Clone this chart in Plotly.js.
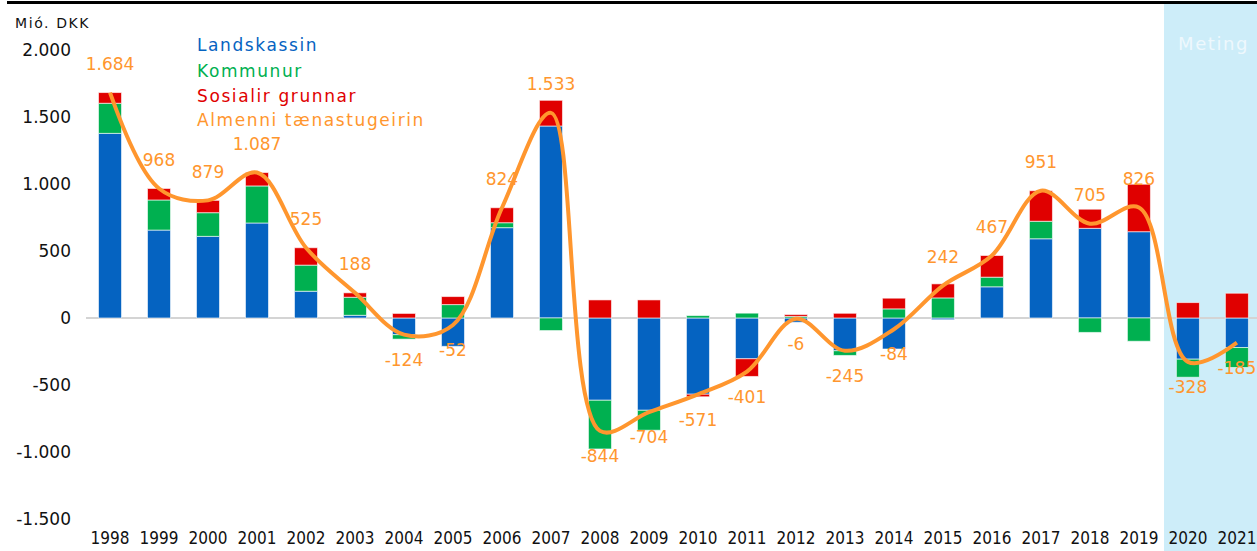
<!DOCTYPE html>
<html>
<head>
<meta charset="utf-8">
<script src="https://cdn.plot.ly/plotly-3.0.1.min.js"></script>
<style>
html, body { margin: 0; padding: 0; background: #fff; }
#chart { width: 1257px; height: 551px; }
.annotation-text { letter-spacing: 1.6px; }
</style>
</head>
<body>
<div id="chart"></div>
<script>
// values in Mió. DKK
const years = ["1998", "1999", "2000", "2001", "2002", "2003", "2004", "2005", "2006", "2007", "2008", "2009",
               "2010", "2011", "2012", "2013", "2014", "2015", "2016", "2017", "2018", "2019", "2020", "2021"];
const landskassin = [1380, 657, 610, 710, 200, 20, -125, -212, 675, 1435, -615, -690, -570, -305, -32, -245, -232, -13, 233, 592, 670, 645, -308, -221];
const kommunur = [225, 225, 177, 277, 195, 135, -33, 100, 37, -94, -364, -149, 18, 36, 12, -35, 68, 150, 72, 131, -108, -174, -135, -149];
const sosialir = [80, 86, 92, 100, 130, 33, 34, 60, 112, 192, 135, 135, -19, -132, 14, 35, 80, 105, 162, 228, 143, 355, 115, 185];
const almenni = [1684, 968, 879, 1087, 525, 188, -124, -52, 824, 1533, -844, -704, -571, -401, -6, -245, -84, 242, 467, 951, 705, 826, -328, -185];

const yTickVals = [-1500, -1000, -500, 0, 500, 1000, 1500, 2000];
const yTickText = ["-1.500", "-1.000", "-500", "0", "500", "1.000", "1.500", "2.000"];

const BLUE = "#0563C1", GREEN = "#00B050", RED = "#E00000", ORANGE = "#FF962E";

function fmt(v) {
    const s = Math.abs(v).toString().replace(/\B(?=(\d{3})+(?!\d))/g, ".");
    return (v < 0 ? "-" : "") + s;
}

// plot area: x 86..1257, y 4..526 (pixels)
const px = x => (x - 86) / 1171;
const py = y => (526 - y) / 522;

const barLine = { width: 1, color: "rgba(255,255,255,0.6)" };

const traces = [
    { type: "bar", x: years, y: landskassin, name: "Landskassin", marker: { color: BLUE, line: barLine } },
    { type: "bar", x: years, y: kommunur, name: "Kommunur", marker: { color: GREEN, line: barLine } },
    { type: "bar", x: years, y: sosialir, name: "Sosialir grunnar", marker: { color: RED, line: barLine } },
    {
        type: "scatter",
        x: years,
        y: almenni,
        name: "Almenni tænastugeirin",
        mode: "lines+markers+text",
        line: { color: ORANGE, width: 4, shape: "spline", smoothing: 1 },
        marker: { size: 28, color: "rgba(0,0,0,0)" },
        text: almenni.map(fmt),
        textposition: almenni.map(v => (v >= 0 ? "top center" : "bottom center")),
        textfont: { family: "DejaVu Sans", size: 17, color: ORANGE },
        cliponaxis: false,
    },
];

const legendItems = [
    { text: "Landskassin", color: BLUE, y: 45 },
    { text: "Kommunur", color: GREEN, y: 71 },
    { text: "Sosialir grunnar", color: RED, y: 96 },
    { text: "Almenni tænastugeirin", color: ORANGE, y: 120 },
];

const annotations = legendItems.map(it => ({
    xref: "paper", yref: "paper", x: px(195), y: py(it.y),
    xanchor: "left", yanchor: "middle", showarrow: false,
    text: it.text, font: { family: "DejaVu Sans", size: 17, color: it.color },
}));
annotations.push({
    xref: "paper", yref: "paper", x: px(13), y: py(23),
    xanchor: "left", yanchor: "middle", showarrow: false,
    text: "Mió. DKK", font: { family: "DejaVu Sans", size: 14, color: "#111" },
});
annotations.push({
    xref: "paper", yref: "paper", x: px(1176), y: py(44),
    xanchor: "left", yanchor: "middle", showarrow: false,
    text: "Meting", font: { family: "DejaVu Sans", size: 18, color: "#EEF8FD" },
});

const layout = {
    width: 1257,
    height: 551,
    margin: { l: 86, r: 0, t: 4, b: 25 },
    paper_bgcolor: "#fff",
    plot_bgcolor: "rgba(0,0,0,0)",
    barmode: "relative",
    bargap: 0.53,
    showlegend: false,
    font: { family: "DejaVu Sans", color: "#111" },
    xaxis: {
        type: "category",
        range: [-0.49, 23.41],
        showgrid: false,
        showline: false,
        zeroline: false,
        ticks: "",
        ticklabelstandoff: 0,
        tickfont: { family: "DejaVu Sans Condensed, Liberation Sans Narrow, DejaVu Sans", size: 17, color: "#111" },
    },
    yaxis: {
        range: [-1555, 2347],
        tickvals: yTickVals,
        ticktext: yTickText,
        showgrid: false,
        showline: false,
        zeroline: true,
        zerolinecolor: "#D4D4D4",
        zerolinewidth: 1.5,
        ticks: "",
        ticklabelstandoff: 14,
        tickfont: { family: "DejaVu Sans", size: 17, color: "#111" },
    },
    shapes: [
        {
            type: "rect", layer: "below",
            xref: "paper", yref: "paper",
            x0: px(1164), x1: 1.01, y0: py(551), y1: 1,
            fillcolor: "#CDEDF9", line: { width: 0 },
        },
        {
            type: "line", layer: "above",
            xref: "paper", yref: "paper",
            x0: px(7), x1: 1.01, y0: py(2.5), y1: py(2.5),
            line: { color: "#000", width: 3 },
        },
    ],
    annotations: annotations,
};

Plotly.newPlot("chart", traces, layout, { displayModeBar: false, responsive: false });
</script>
</body>
</html>
